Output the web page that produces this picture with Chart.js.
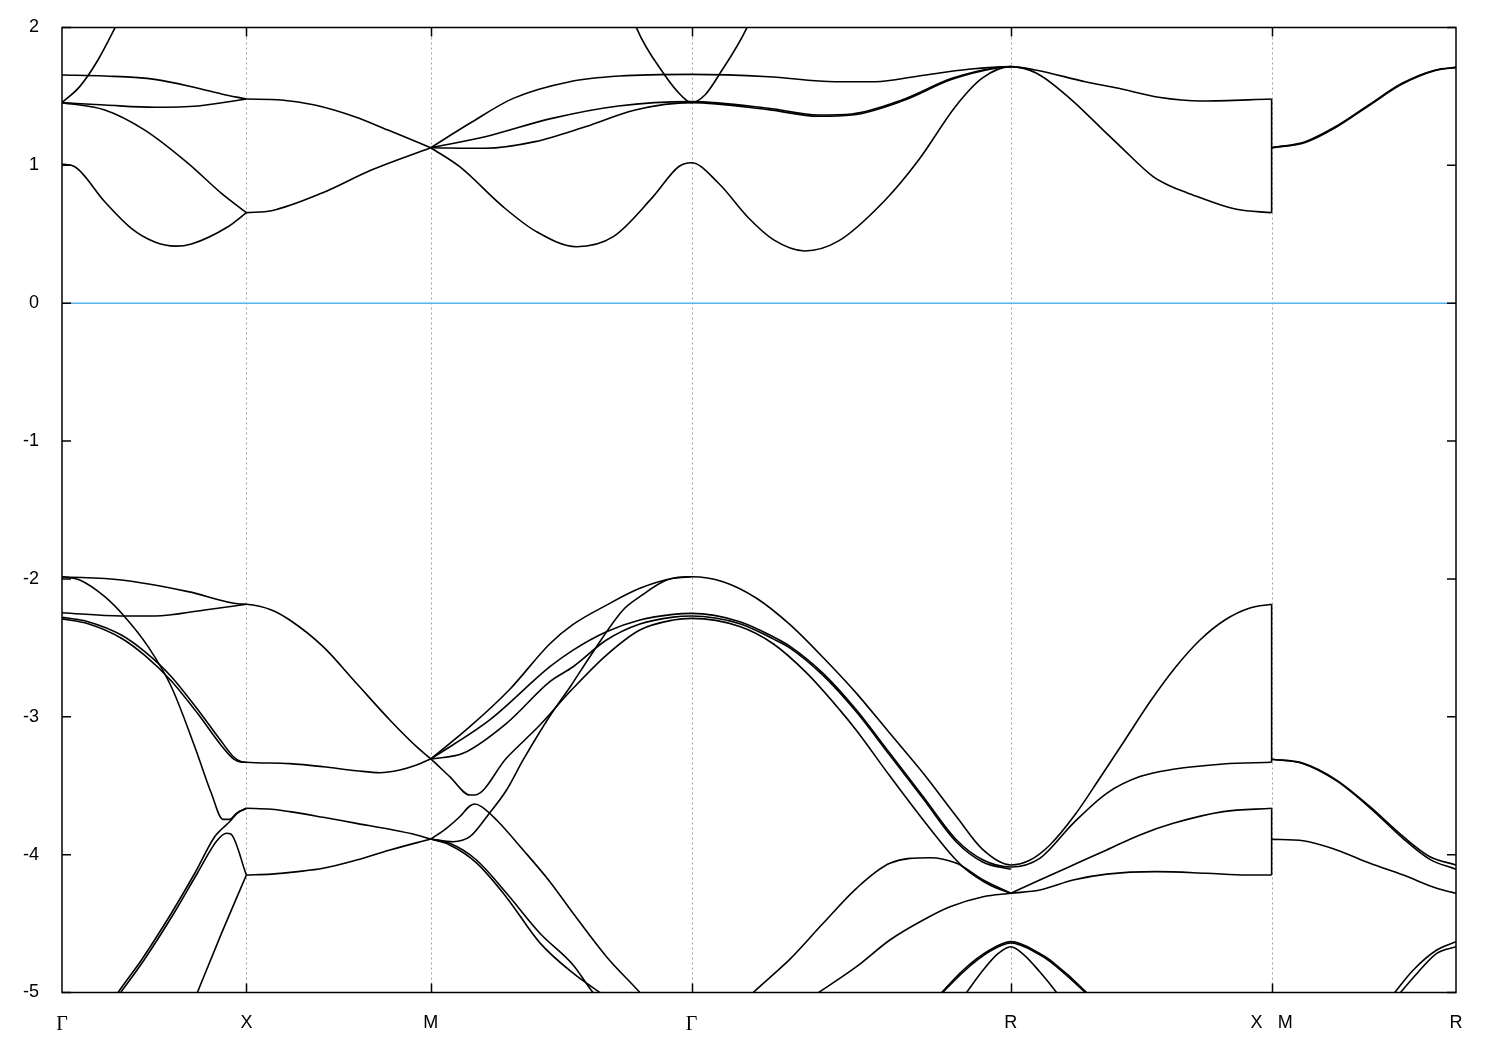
<!DOCTYPE html>
<html lang="en">
<head>
<meta charset="UTF-8">
<title>Band structure</title>
<script src="https://cdn.jsdelivr.net/npm/chart.js@4/dist/chart.umd.min.js"></script>
<style>
    body { margin: 0; background: #fff; }
    #wrap { width: 1500px; height: 1050px; }
</style>
</head>
<body>
<div id="wrap"><canvas id="bands" width="1500" height="1050"></canvas></div>
<script>
// k path: G-X-M-G-R-X|M-R (length along the path, units of 2pi/a)
const kTicks = [0, 1, 2, 3.4142, 5.1463, 6.5605, 7.5605];
const kLabels = ['Γ', 'X', 'M', 'Γ', 'R', 'X   M', 'R'];
const eMin = -5, eMax = 2;

// ---- conduction bands [k, E(eV)] ----
const cb1 = [[0,1.01],[0.07,0.99],[0.232,0.736],[0.376,0.543],[0.5,0.446],[0.615,0.414],[0.702,0.43],[0.9,0.555],[1,0.657]];
const cb2 = [[0,1.455],[0.232,1.402],[0.449,1.256],[0.684,1.015],[0.865,0.797],[1,0.657]];
const cb3 = [[0,1.455],[0.232,1.438],[0.503,1.421],[0.738,1.431],[1,1.481]];
const cb4 = [[0,1.655],[0.232,1.648],[0.503,1.624],[0.738,1.559],[0.865,1.518],[1,1.481]];
const cb5 = [[0,1.455],[0.096,1.571],[0.195,1.764],[0.286,1.994],[0.31,2.06]];
const cb6 = [[1,0.657],[1.136,0.671],[1.407,0.797],[1.678,0.966],[2,1.128]];
const cb7 = [[1,1.481],[1.19,1.474],[1.371,1.438],[1.588,1.353],[1.768,1.256],[2,1.128]];
const cb8 = [[2,1.128],[2.157,0.99],[2.392,0.70],[2.573,0.519],[2.79,0.41],[2.99,0.483],[3.206,0.773],[3.344,0.99],[3.4142,1.019],
             [3.561,0.87],[3.724,0.618],[3.86,0.459],[4.028,0.379],[4.212,0.452],[4.465,0.749],[4.646,1.039],
             [4.845,1.426],[4.989,1.631],[5.1463,1.716],[5.286,1.668],[5.466,1.486],[5.647,1.256],[5.738,1.14],
             [5.918,0.918],[6.01,0.85],[6.1,0.802],[6.371,0.681],[6.5605,0.657]];
const cb9 = [[2,1.128],[2.212,1.305],[2.447,1.486],[2.754,1.607],[3.025,1.648],[3.4142,1.66],[3.832,1.643],[4.194,1.607],
             [4.411,1.607],[4.646,1.648],[4.917,1.697],[5.1463,1.716],[5.279,1.692],[5.55,1.607],[5.731,1.559],[5.948,1.494],
             [6.183,1.467],[6.5605,1.481]];
const cb10 = [[2,1.128],[2.295,1.208],[2.657,1.341],[3.018,1.431],[3.4142,1.462],[3.832,1.414],[4.103,1.365],[4.284,1.373],
              [4.555,1.474],[4.827,1.631],[5.062,1.708],[5.1463,1.716]];
const cb11 = [[2,1.128],[2.295,1.124],[2.566,1.172],[2.838,1.28],[3.109,1.402],[3.4142,1.455],[3.832,1.404],[4.103,1.356],
              [4.284,1.365],[4.555,1.466],[4.827,1.624],[5.062,1.705],[5.1463,1.716]];
const cb12 = [[3.103,2.05],[3.117,1.994],[3.262,1.668],[3.361,1.503],[3.4142,1.455],[3.487,1.51],[3.569,1.668],[3.713,1.994],[3.727,2.04]];
const cb13 = [[6.5605,1.128],[6.743,1.172],[6.906,1.28],[7.087,1.438],[7.268,1.595],[7.449,1.692],[7.5605,1.711]];
const cb14 = [[6.5605,1.128],[6.743,1.166],[6.906,1.273],[7.087,1.432],[7.268,1.589],[7.449,1.688],[7.5605,1.711]];

// ---- valence bands [k, E(eV)] ----
const vb1 = [[0,-1.984],[0.322,-2.008],[0.684,-2.092],[0.964,-2.182],[1,-2.184],[1.136,-2.225],[1.235,-2.298],[1.416,-2.491],
             [1.597,-2.757],[1.778,-3.023],[1.923,-3.217],[2,-3.306],[2.103,-3.434],[2.212,-3.567],[2.239,-3.567],[2.411,-3.299],
             [2.592,-3.06],[2.763,-2.806],[2.953,-2.552],[3.134,-2.37],[3.315,-2.298],[3.4142,-2.286],[3.676,-2.345],[3.857,-2.47],
             [4.037,-2.68],[4.218,-2.95],[4.309,-3.10],[4.49,-3.43],[4.671,-3.749],[4.816,-3.99],[4.888,-4.09],[5.032,-4.22],[5.1463,-4.28]];
const vb2 = [[0,-2.245],[0.322,-2.269],[0.503,-2.269],[0.774,-2.225],[1,-2.184]];
const vb3 = [[0,-1.984],[0.096,-2.008],[0.232,-2.129],[0.34,-2.274],[0.467,-2.491],[0.593,-2.782],[0.72,-3.217],[0.81,-3.555],
             [0.873,-3.744],[0.91,-3.744],[0.946,-3.70],[1,-3.664]];
const vb4 = [[0,-2.278],[0.141,-2.31],[0.322,-2.407],[0.449,-2.528],[0.593,-2.709],[0.738,-2.951],[0.865,-3.18],[0.93,-3.29],
             [0.97,-3.325],[1,-3.33],[1.235,-3.34],[1.416,-3.362],[1.597,-3.391],[1.723,-3.406],[1.832,-3.386],[1.923,-3.35],[2,-3.306]];
const vb5 = [[0,-2.29],[0.141,-2.325],[0.322,-2.43],[0.449,-2.555],[0.593,-2.74],[0.738,-2.98],[0.865,-3.21],[0.93,-3.305],
             [0.97,-3.328],[1,-3.33]];
const vb6 = [[1,-3.664],[1.136,-3.671],[1.235,-3.688],[1.416,-3.729],[1.597,-3.773],[1.778,-3.816],[1.923,-3.857],[2,-3.887]];
const vb7 = [[1,-4.148],[1.136,-4.141],[1.28,-4.123],[1.416,-4.099],[1.597,-4.039],[1.778,-3.966],[2,-3.887]];
const vb8 = [[0.29,-5.03],[0.304,-5.0],[0.431,-4.764],[0.593,-4.425],[0.72,-4.135],[0.828,-3.87],[0.865,-3.816],[0.91,-3.76],
             [0.95,-3.70],[1,-3.664]];
const vb9 = [[0.302,-5.03],[0.445,-4.764],[0.607,-4.425],[0.734,-4.135],[0.84,-3.9],[0.892,-3.845],[0.915,-3.85],[1,-4.148]];
const vb10 = [[0.725,-5.03],[0.865,-4.571],[1,-4.148]];
const vb11 = [[2,-3.306],[2.212,-3.072],[2.429,-2.80],[2.646,-2.47],[2.772,-2.33],[2.953,-2.19],[3.134,-2.068],[3.315,-1.995],[3.4142,-1.984]];
const vb12 = [[2,-3.306],[2.32,-3.023],[2.646,-2.637],[2.772,-2.516],[2.953,-2.383],[3.134,-2.298],[3.315,-2.257],[3.4142,-2.25],
              [3.676,-2.31],[3.857,-2.419],[3.947,-2.487],[4.128,-2.685],[4.309,-2.951],[4.49,-3.265],[4.671,-3.58],[4.852,-3.894],
              [4.996,-4.039],[5.1463,-4.09],[5.303,-4.027],[5.484,-3.773],[5.666,-3.555],[5.846,-3.434],[6.027,-3.381],
              [6.298,-3.342],[6.5605,-3.33]];
const vb13 = [[2,-3.306],[2.175,-3.265],[2.411,-3.047],[2.646,-2.745],[2.772,-2.637],[2.953,-2.443],[3.134,-2.327],[3.315,-2.277],
              [3.4142,-2.269],[3.676,-2.325],[3.857,-2.435],[3.947,-2.5],[4.128,-2.7],[4.309,-2.966],[4.49,-3.28],[4.671,-3.595],
              [4.852,-3.91],[4.996,-4.055],[5.1463,-4.106]];
const vb14 = [[2,-3.887],[2.121,-3.906],[2.212,-3.87],[2.311,-3.712],[2.411,-3.531],[2.501,-3.313],[2.646,-2.994],[2.763,-2.769],
              [2.863,-2.564],[3.043,-2.225],[3.134,-2.129],[3.279,-2.008],[3.4142,-1.984],[3.585,-2.02],[3.767,-2.14],[3.947,-2.33],
              [4.128,-2.57],[4.309,-2.83],[4.49,-3.12],[4.671,-3.41],[4.852,-3.725],[4.996,-3.966],[5.1463,-4.075],[5.251,-4.039],
              [5.358,-3.93],[5.493,-3.713],[5.629,-3.444],[5.765,-3.168],[5.9,-2.893],[6.036,-2.646],[6.172,-2.443],[6.307,-2.298],
              [6.443,-2.211],[6.5605,-2.184]];
const vb15 = [[2,-3.887],[2.085,-3.809],[2.157,-3.725],[2.212,-3.647],[2.239,-3.633],[2.275,-3.652],[2.357,-3.749],[2.501,-3.966],
              [2.646,-4.196],[2.772,-4.425],[2.953,-4.74],[3.134,-5.0],[3.16,-5.04]];
const vb16 = [[2,-3.887],[2.103,-3.918],[2.248,-4.039],[2.411,-4.28],[2.592,-4.57],[2.772,-4.80],[2.88,-5.0],[2.9,-5.03]];
const vb17 = [[2,-3.887],[2.103,-3.93],[2.248,-4.06],[2.411,-4.31],[2.592,-4.64],[2.772,-4.86],[2.95,-5.03]];
const vb18 = [[3.72,-5.04],[3.749,-5.0],[3.857,-4.87],[3.947,-4.76],[4.128,-4.498],[4.309,-4.244],[4.49,-4.063],[4.707,-4.022],
              [4.852,-4.063],[4.996,-4.184],[5.1463,-4.28]];
const vb19 = [[4.07,-5.03],[4.309,-4.813],[4.49,-4.619],[4.671,-4.474],[4.816,-4.378],[4.996,-4.305],[5.1463,-4.28]];
const vb20 = [[4.75,-5.03],[4.888,-4.837],[5.032,-4.692],[5.1463,-4.631],[5.303,-4.716],[5.358,-4.764],[5.557,-5.0],[5.57,-5.02]];
const vb21 = [[4.755,-5.03],[4.89,-4.848],[5.032,-4.702],[5.1463,-4.641],[5.303,-4.726],[5.358,-4.774],[5.55,-5.0],[5.565,-5.02]];
const vb22 = [[4.89,-5.03],[4.996,-4.837],[5.075,-4.72],[5.1463,-4.668],[5.22,-4.73],[5.303,-4.85],[5.394,-5.0],[5.41,-5.03]];
const vb23 = [[5.1463,-4.28],[5.303,-4.184],[5.484,-4.075],[5.666,-3.966],[5.846,-3.857],[6.027,-3.773],[6.298,-3.688],[6.5605,-3.664]];
const vb24 = [[5.1463,-4.28],[5.303,-4.256],[5.484,-4.184],[5.666,-4.141],[5.937,-4.123],[6.208,-4.135],[6.425,-4.148],[6.5605,-4.148]];
const vb25 = [[6.5605,-3.308],[6.732,-3.337],[6.913,-3.459],[7.094,-3.652],[7.275,-3.87],[7.419,-4.015],[7.5605,-4.075]];
const vb26 = [[6.5605,-3.308],[6.732,-3.34],[6.913,-3.465],[7.094,-3.66],[7.275,-3.885],[7.419,-4.034],[7.5605,-4.106]];
const vb27 = [[6.5605,-3.889],[6.732,-3.899],[6.913,-3.966],[7.094,-4.063],[7.275,-4.148],[7.456,-4.244],[7.5605,-4.28]];
const vb28 = [[7.21,-5.03],[7.329,-4.837],[7.456,-4.692],[7.5605,-4.631]];
const vb29 = [[7.24,-5.03],[7.35,-4.86],[7.456,-4.716],[7.5605,-4.668]];

// band index jumps at the X|M break
const jumpTop = [[6.5605,0.657],[6.5605,1.481]];
const jumpMid = [[6.5605,-2.184],[6.5605,-3.33]];
const jumpLow = [[6.5605,-3.664],[6.5605,-4.148]];
const fermi = [[0,0],[7.5605,0]];

const bands = [cb1, cb2, cb3, cb4, cb5, cb6, cb7, cb8, cb9, cb10, cb11, cb12, cb13, cb14,
    vb1, vb2, vb3, vb4, vb5, vb6, vb7, vb8, vb9, vb10, vb11, vb12, vb13, vb14, vb15, vb16, vb17,
    vb18, vb19, vb20, vb21, vb22, vb23, vb24, vb25, vb26, vb27, vb28, vb29];

function lineSet(pts, color, width, smooth) {
    return {
        data: pts.map(p => ({ x: p[0], y: p[1] })),
        borderColor: color,
        borderWidth: width,
        pointRadius: 0,
        fill: false,
        tension: 0,
        cubicInterpolationMode: smooth ? 'monotone' : 'default'
    };
}

const datasets = [lineSet(fermi, '#56b4e9', 1.5, false)];
bands.forEach(b => datasets.push(lineSet(b, '#000', 1.6, true)));
[jumpTop, jumpMid, jumpLow].forEach(j => datasets.push(lineSet(j, '#000', 1.6, false)));

// dotted lines at the symmetry points, frame and inward ticks like gnuplot
const framePlugin = {
    id: 'framePlugin',
    beforeDatasetsDraw(chart) {
        const { ctx, chartArea: a, scales: { x } } = chart;
        ctx.save();
        ctx.strokeStyle = '#a0a0a0';
        ctx.lineWidth = 1;
        ctx.setLineDash([2, 3]);
        kTicks.slice(1, -1).forEach(k => {
            const px = Math.round(x.getPixelForValue(k)) + 0.5;
            ctx.beginPath();
            ctx.moveTo(px, a.top);
            ctx.lineTo(px, a.bottom);
            ctx.stroke();
        });
        ctx.restore();
    },
    afterDatasetsDraw(chart) {
        const { ctx, chartArea: a, scales: { x, y } } = chart;
        const len = 9;
        ctx.save();
        ctx.strokeStyle = '#000';
        ctx.lineWidth = 1.5;
        ctx.beginPath();
        for (let v = eMin; v <= eMax; v++) {
            const py = y.getPixelForValue(v);
            ctx.moveTo(a.left, py); ctx.lineTo(a.left + len, py);
            ctx.moveTo(a.right, py); ctx.lineTo(a.right - len, py);
        }
        kTicks.slice(1, -1).forEach(k => {
            const px = Math.round(x.getPixelForValue(k)) + 0.5;
            ctx.moveTo(px, a.bottom); ctx.lineTo(px, a.bottom - len);
            ctx.moveTo(px, a.top); ctx.lineTo(px, a.top + len);
        });
        ctx.stroke();
        ctx.strokeRect(a.left, a.top, a.right - a.left, a.bottom - a.top);
        ctx.restore();
    }
};

new Chart(document.getElementById('bands'), {
    type: 'line',
    data: { datasets: datasets },
    plugins: [framePlugin],
    options: {
        responsive: false,
        animation: false,
        layout: { padding: { top: 27.5, right: 44, left: 0, bottom: 0 } },
        plugins: { legend: { display: false }, tooltip: { enabled: false } },
        elements: { point: { radius: 0 }, line: { capBezierPoints: false } },
        scales: {
            x: {
                type: 'linear',
                min: 0,
                max: kTicks[kTicks.length - 1],
                afterBuildTicks: s => { s.ticks = kTicks.map(v => ({ value: v })); },
                afterFit: s => { s.height = 57.5; },
                grid: { display: false },
                border: { display: false },
                ticks: {
                    autoSkip: false,
                    maxRotation: 0,
                    padding: 12,
                    color: '#000',
                    callback: (v, i) => kLabels[i],
                    font: c => (c.tick && kLabels[c.index] === 'Γ')
                        ? { family: 'Liberation Serif', size: 20 }
                        : { family: 'Liberation Sans', size: 18 }
                }
            },
            y: {
                min: eMin,
                max: eMax,
                afterFit: s => { s.width = 62; },
                grid: { display: false },
                border: { display: false },
                ticks: {
                    stepSize: 1,
                    padding: 15,
                    color: '#000',
                    font: { family: 'Liberation Sans', size: 18 }
                }
            }
        }
    }
});
</script>
</body>
</html>
